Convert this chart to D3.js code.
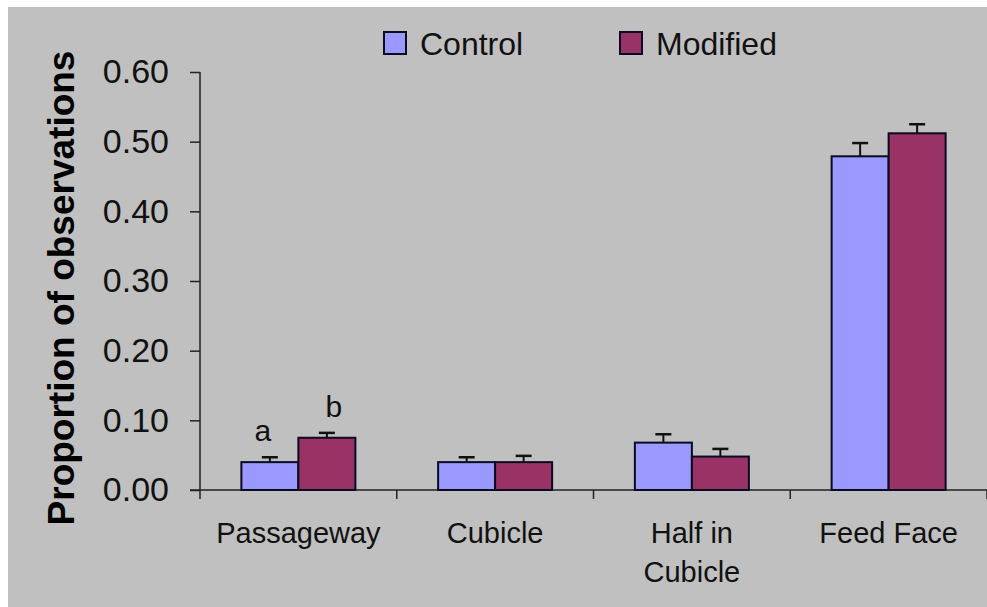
<!DOCTYPE html>
<html>
<head>
<meta charset="utf-8">
<script src="https://cdn.jsdelivr.net/npm/d3@7"></script>
<style>
  html, body { margin: 0; padding: 0; background: #ffffff; }
  svg { display: block; font-family: Arial, "Liberation Sans", sans-serif; }
</style>
</head>
<body>
<svg id="chart" width="987" height="607"></svg>
<script>
// Observation categories and the two treatment series
const categories = ["Passageway", "Cubicle", "Half in Cubicle", "Feed Face"];
const categoryLines = [["Passageway"], ["Cubicle"], ["Half in", "Cubicle"], ["Feed Face"]];
const seriesNames = ["Control", "Modified"];
const controlValues = [0.040, 0.040, 0.068, 0.479];
const modifiedValues = [0.075, 0.040, 0.048, 0.512];
const controlErrors = [0.007, 0.007, 0.012, 0.019];
const modifiedErrors = [0.007, 0.009, 0.011, 0.013];
const significance = [["a", "b"], ["", ""], ["", ""], ["", ""]];
const yTicks = [0, 0.1, 0.2, 0.3, 0.4, 0.5, 0.6];

const colors = ["#9999FF", "#993366"];

const svg = d3.select("#chart");
const W = 987, H = 607;

// grey chart area
svg.append("rect").attr("x", 8).attr("y", 7).attr("width", W - 8).attr("height", H - 7)
  .attr("fill", "#C0C0C0");

const plot = { left: 200, right: 987, top: 72, bottom: 490 };

const x = d3.scaleBand().domain(categories).range([plot.left, plot.right]).paddingInner(0).paddingOuter(0);
const xSub = d3.scaleBand().domain(seriesNames).range([0, 114]);
const groupOffset = (x.bandwidth() - 114) / 2;
const y = d3.scaleLinear().domain([0, 0.6]).range([plot.bottom, plot.top]);

const rows = categories.map((c, i) => ({
  cat: c,
  bars: [
    { s: seriesNames[0], v: controlValues[i], e: controlErrors[i], label: significance[i][0], color: colors[0] },
    { s: seriesNames[1], v: modifiedValues[i], e: modifiedErrors[i], label: significance[i][1], color: colors[1] }
  ]
}));

// Y axis
const yAxis = d3.axisLeft(y).tickValues(yTicks).tickFormat(d3.format(".2f")).tickSize(10).tickPadding(21);
const gy = svg.append("g").attr("transform", `translate(${plot.left},0)`).call(yAxis);
gy.select(".domain").attr("stroke", "#222").attr("stroke-width", 1.5).attr("d", `M0,${plot.top}V${plot.bottom}`);
gy.selectAll(".tick line").attr("stroke", "#222").attr("stroke-width", 1.5);
gy.selectAll(".tick text").attr("font-size", 34).attr("fill", "#111").attr("font-family", "Arial, 'Liberation Sans', sans-serif");

// X axis with ticks on category boundaries
const gx = svg.append("g").attr("transform", `translate(0,${plot.bottom})`);
gx.append("line").attr("x1", plot.left - 10).attr("x2", plot.right).attr("y1", 0).attr("y2", 0)
  .attr("stroke", "#222").attr("stroke-width", 1.5);
const boundaries = categories.map(c => x(c)).concat([x(categories[categories.length - 1]) + x.bandwidth()]);
gx.selectAll("line.b").data(boundaries).join("line").attr("class", "b")
  .attr("x1", d => d).attr("x2", d => d).attr("y1", 0).attr("y2", 9)
  .attr("stroke", "#222").attr("stroke-width", 1.5);
const catText = gx.selectAll("text.cat").data(categories).join("text").attr("class", "cat")
  .attr("x", d => x(d) + x.bandwidth() / 2)
  .attr("text-anchor", "middle").attr("font-size", 29).attr("fill", "#111");
catText.each(function(d, i) {
  d3.select(this).selectAll("tspan").data(categoryLines[i]).join("tspan")
    .attr("x", x(d) + x.bandwidth() / 2)
    .attr("y", (t, j) => 53 + j * 39)
    .text(t => t);
});

// Bars, error bars and significance letters
const groups = svg.selectAll("g.grp").data(rows).join("g").attr("class", "grp")
  .attr("transform", d => `translate(${x(d.cat) + groupOffset},0)`);

groups.selectAll("rect").data(d => d.bars).join("rect")
  .attr("x", d => xSub(d.s))
  .attr("y", d => y(d.v))
  .attr("width", xSub.bandwidth())
  .attr("height", d => y(0) - y(d.v))
  .attr("fill", d => d.color)
  .attr("stroke", "#0a0a22").attr("stroke-width", 2);

const err = groups.selectAll("g.err").data(d => d.bars).join("g").attr("class", "err");
err.append("line")
  .attr("x1", d => xSub(d.s) + xSub.bandwidth() / 2).attr("x2", d => xSub(d.s) + xSub.bandwidth() / 2)
  .attr("y1", d => y(d.v)).attr("y2", d => y(d.v + d.e))
  .attr("stroke", "#111").attr("stroke-width", 2);
err.append("line")
  .attr("x1", d => xSub(d.s) + xSub.bandwidth() / 2 - 8).attr("x2", d => xSub(d.s) + xSub.bandwidth() / 2 + 8)
  .attr("y1", d => y(d.v + d.e)).attr("y2", d => y(d.v + d.e))
  .attr("stroke", "#111").attr("stroke-width", 2.5);

groups.selectAll("text.sig").data(d => d.bars.filter(b => b.label)).join("text").attr("class", "sig")
  .attr("x", (d, i) => xSub(d.s) + xSub.bandwidth() / 2 + (i === 0 ? -7 : 7))
  .attr("y", d => y(d.v + d.e) - 16)
  .attr("text-anchor", "middle").attr("font-size", 30).attr("fill", "#111")
  .text(d => d.label);

// Y axis title
svg.append("text")
  .attr("transform", `translate(74,288) rotate(-90)`)
  .attr("text-anchor", "middle").attr("font-size", 37).attr("font-weight", "bold").attr("fill", "#000")
  .text("Proportion of observations");

// Legend
const legend = svg.append("g");
const legendX = [384, 620];
const li = legend.selectAll("g").data(seriesNames).join("g")
  .attr("transform", (d, i) => `translate(${legendX[i]},32)`);
li.append("rect").attr("width", 22).attr("height", 22)
  .attr("fill", (d, i) => colors[i]).attr("stroke", "#0a0a22").attr("stroke-width", 2);
li.append("text").attr("x", 36).attr("y", 23).attr("font-size", 32).attr("fill", "#111").text(d => d);
</script>
</body>
</html>
